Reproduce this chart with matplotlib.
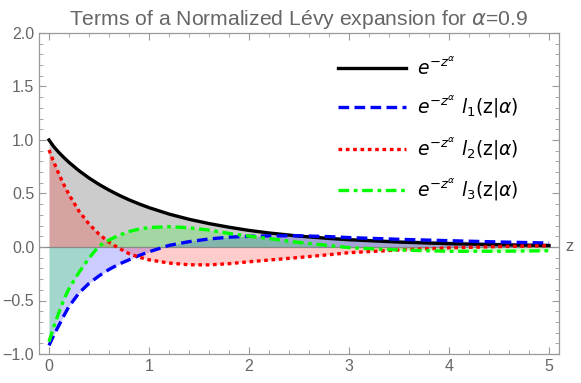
import matplotlib
matplotlib.use("Agg")
import matplotlib.pyplot as plt
import numpy as np

plt.rcParams['font.family'] = ['Liberation Sans', 'DejaVu Sans']
plt.rcParams['mathtext.fontset'] = 'dejavusans'

# values
z = [0.0, 0.05, 0.1, 0.15, 0.2, 0.3, 0.4, 0.5, 0.6, 0.7, 0.8, 0.9, 1.0, 1.2, 1.4, 1.6,
     1.8, 2.0, 2.2, 2.5, 2.8, 3.0, 3.5, 4.0, 4.5, 5.0]

term0 = [1.0, 0.935, 0.882, 0.835, 0.791, 0.713, 0.645, 0.585, 0.532, 0.484, 0.441, 0.403,
         0.368, 0.308, 0.259, 0.219, 0.185, 0.155, 0.131, 0.102, 0.080, 0.068, 0.046, 0.031,
         0.021, 0.014]
term1 = [-0.92, -0.82, -0.73, -0.64, -0.555, -0.43, -0.34, -0.27, -0.21, -0.16, -0.12, -0.08,
         -0.045, 0.015, 0.05, 0.075, 0.092, 0.100, 0.104, 0.105, 0.097, 0.088, 0.072, 0.059,
         0.047, 0.037]
term2 = [0.907, 0.79, 0.68, 0.58, 0.49, 0.335, 0.215, 0.12, 0.045, -0.012, -0.062, -0.095,
         -0.12, -0.150, -0.166, -0.167, -0.156, -0.138, -0.122, -0.098, -0.072, -0.053, -0.028,
         -0.008, 0.004, 0.012]
term3 = [-0.885, -0.74, -0.61, -0.49, -0.39, -0.237, -0.105, 0.01, 0.065, 0.11, 0.145, 0.167,
         0.182, 0.190, 0.180, 0.158, 0.127, 0.102, 0.079, 0.043, 0.014, -0.006, -0.028,
         -0.040, -0.040, -0.035]

labels = [r'$e^{-z^{\alpha}}$',
          r'$e^{-z^{\alpha}}\,\, l_1(\mathrm{z}|\alpha)$',
          r'$e^{-z^{\alpha}}\,\, l_2(\mathrm{z}|\alpha)$',
          r'$e^{-z^{\alpha}}\,\, l_3(\mathrm{z}|\alpha)$']
colors = ['black', '#0000ff', '#ff0000', '#00ff00']
styles = ['-', (0, (3.2, 1.6)), (0, (1.1, 1.1)), (0, (3.2, 1.4, 1.1, 1.4))]

gray = '#666666'

fig = plt.figure(figsize=(5.81, 3.83), dpi=100)
ax = fig.add_axes([39/581, 1 - 354/383, 520/581, 321/383])

for vals, c in zip([term0, term1, term2, term3], colors):
    ax.fill_between(z, vals, 0, color=c, alpha=0.2, linewidth=0)

ax.axhline(0, color='#888888', lw=0.9, zorder=1)

for vals, c, ls, lab in zip([term0, term1, term2, term3], colors, styles, labels):
    ax.plot(z, vals, color=c, ls=ls, lw=2.4, label=lab, zorder=3)

ax.set_xlim(-0.1, 5.1)
ax.set_ylim(-1.0, 2.0)
ax.set_xticks(np.arange(0, 6, 1))
ax.set_xticks(np.arange(-0.0, 5.01, 0.2), minor=True)
ax.set_yticks(np.arange(-1.0, 2.01, 0.5))
ax.set_yticks(np.arange(-1.0, 2.01, 0.1), minor=True)
ax.set_yticklabels(['%.1f' % v if v >= 0 else '\u2212%.1f' % -v for v in np.arange(-1.0, 2.01, 0.5)])

ax.tick_params(which='both', direction='in', top=True, right=True, color='#999999',
               labelcolor=gray, labelsize=11.5)
ax.tick_params(which='major', length=5, width=0.8)
ax.tick_params(which='minor', length=3, width=0.6)
for sp in ax.spines.values():
    sp.set_color('#999999')
    sp.set_linewidth(0.9)

ax.text(1.012, 0.0, 'z', transform=ax.get_yaxis_transform(), color=gray, fontsize=12,
        va='center', ha='left')

ax.set_title('Terms of a Normalized L\u00e9vy expansion for $\\alpha$=0.9', color=gray,
             fontsize=15.2, pad=6)

leg = ax.legend(loc='upper left', bbox_to_anchor=(0.543, 0.98), frameon=False, fontsize=13.5,
                handlelength=3.6, labelspacing=0.8, handletextpad=0.6)

fig.savefig('out.png', dpi=100)
